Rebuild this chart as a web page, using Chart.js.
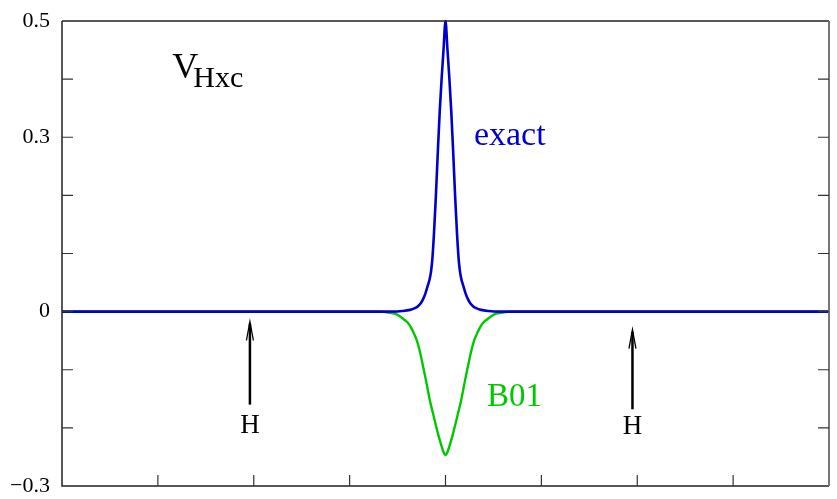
<!DOCTYPE html>
<html>
<head>
<meta charset="utf-8">
<title>V_Hxc</title>
<script src="https://cdn.jsdelivr.net/npm/chart.js@4.4.0/dist/chart.umd.min.js"></script>
<style>
  html, body { margin: 0; padding: 0; background: #fff; }
  #wrap { width: 837px; height: 499px; }
</style>
</head>
<body>
<div id="wrap"><canvas id="vhxc" width="837" height="499"></canvas></div>
<script>
const SERIF = '"Liberation Serif", "DejaVu Serif", "Times New Roman", serif';

// exact potential: sharp peak at the bond midpoint
const exactX = [-4, -0.55, -0.45, -0.37, -0.32, -0.29, -0.26, -0.235, -0.21, -0.188, -0.165, -0.15, -0.136,
  -0.12, -0.1, -0.08, -0.06, -0.04, -0.02,
  0, 0.02, 0.04, 0.06, 0.08, 0.1, 0.12,
  0.136, 0.15, 0.165, 0.188, 0.21, 0.235, 0.26, 0.29, 0.32, 0.37, 0.45, 0.55, 4];
const exactY = [0, 0, 0.001, 0.003, 0.006, 0.009, 0.014, 0.021, 0.031, 0.043, 0.056, 0.07, 0.093,
  0.135, 0.2, 0.275, 0.345, 0.402, 0.452,
  0.5, 0.452, 0.402, 0.345, 0.275, 0.2, 0.135,
  0.093, 0.07, 0.056, 0.043, 0.031, 0.021, 0.014, 0.009, 0.006, 0.003, 0.001, 0, 0];

// B01 approximation: broad well instead of the peak
const b01X = [-4, -0.68, -0.6, -0.521, -0.469, -0.43, -0.389, -0.36, -0.331, -0.3, -0.271, -0.233, -0.198,
  -0.164, -0.122, -0.08, -0.042, -0.02,
  0, 0.02, 0.042, 0.08, 0.122, 0.164,
  0.198, 0.233, 0.271, 0.3, 0.331, 0.36, 0.389, 0.43, 0.469, 0.521, 0.6, 0.68, 4];
const b01Y = [0, 0, -0.0015, -0.004, -0.009, -0.014, -0.020, -0.027, -0.037, -0.049, -0.066, -0.095, -0.123,
  -0.152, -0.181, -0.209, -0.231, -0.242,
  -0.247, -0.242, -0.231, -0.209, -0.181, -0.152,
  -0.123, -0.095, -0.066, -0.049, -0.037, -0.027, -0.020, -0.014, -0.009, -0.004, -0.0015, 0, 0];

const yLabels = { "0.5": "0.5", "0.3": "0.3", "0": "0", "-0.3": "\u22120.3" };

// hydrogen positions: arrow x, tip, tail and label baseline
const atomX = [-2.04, 1.95];
const arrowTip = [-0.017, -0.031];
const arrowTail = [-0.16, -0.168];
const atomLabelY = [-0.208, -0.211];

const toPts = (xs, ys) => xs.map((x, i) => ({ x: x, y: ys[i] }));

const frameAndTicks = {
  id: "frameAndTicks",
  afterDatasetsDraw(chart) {
    const { ctx, chartArea: a, scales } = chart;
    const x = scales.x, y = scales.y;
    ctx.save();
    ctx.strokeStyle = "#222";
    ctx.lineWidth = 1.5;
    ctx.beginPath();
    ctx.moveTo(a.left, a.top);
    ctx.lineTo(a.right, a.top);
    ctx.moveTo(a.left, a.top);
    ctx.lineTo(a.left, a.bottom);
    ctx.lineTo(a.right, a.bottom);
    ctx.stroke();
    ctx.strokeStyle = "#777";
    ctx.lineWidth = 2;
    ctx.beginPath();
    ctx.moveTo(a.right, a.top);
    ctx.lineTo(a.right, a.bottom);
    ctx.stroke();

    // inward tick marks
    ctx.strokeStyle = "#333";
    ctx.lineWidth = 1.2;
    ctx.beginPath();
    y.ticks.forEach((t) => {
      const py = y.getPixelForValue(t.value);
      if (Math.abs(py - a.top) < 1 || Math.abs(py - a.bottom) < 1) return;
      ctx.moveTo(a.left, py);
      ctx.lineTo(a.left + 11, py);
      ctx.moveTo(a.right, py);
      ctx.lineTo(a.right - 11, py);
    });
    x.ticks.forEach((t) => {
      const px = x.getPixelForValue(t.value);
      if (Math.abs(px - a.left) < 1 || Math.abs(px - a.right) < 1) return;
      ctx.moveTo(px, a.bottom);
      ctx.lineTo(px, a.bottom - 11);
    });
    ctx.stroke();

    // arrows marking the H atoms
    ctx.strokeStyle = "#000";
    ctx.fillStyle = "#000";
    atomX.forEach((ax, i) => {
      const px = x.getPixelForValue(ax);
      const tip = y.getPixelForValue(arrowTip[i]);
      const tail = y.getPixelForValue(arrowTail[i]);
      ctx.lineWidth = 2.5;
      ctx.beginPath();
      ctx.moveTo(px, tail);
      ctx.lineTo(px, tip + 2);
      ctx.stroke();
      ctx.lineWidth = 1.3;
      ctx.beginPath();
      ctx.moveTo(px - 3.5, tip + 19);
      ctx.lineTo(px, tip);
      ctx.lineTo(px + 3.5, tip + 19);
      ctx.stroke();
      ctx.font = "27px " + SERIF;
      ctx.textAlign = "center";
      ctx.textBaseline = "alphabetic";
      ctx.fillText("H", px, y.getPixelForValue(atomLabelY[i]));
    });

    // curve labels
    ctx.textAlign = "left";
    ctx.font = "36px " + SERIF;
    ctx.fillText("V", x.getPixelForValue(-2.85), y.getPixelForValue(0.402));
    ctx.font = "30px " + SERIF;
    ctx.fillText("Hxc", x.getPixelForValue(-2.63), y.getPixelForValue(0.387));
    ctx.font = "34px " + SERIF;
    ctx.fillStyle = "rgb(0,0,205)";
    ctx.fillText("exact", x.getPixelForValue(0.296), y.getPixelForValue(0.287));
    ctx.font = "33px " + SERIF;
    ctx.fillStyle = "rgb(0,200,0)";
    ctx.fillText("B01", x.getPixelForValue(0.432), y.getPixelForValue(-0.163));
    ctx.restore();
  },
};

const ctx = document.getElementById("vhxc").getContext("2d");

new Chart(ctx, {
  type: "line",
  data: {
    datasets: [
      {
        label: "exact",
        data: toPts(exactX, exactY),
        borderColor: "rgb(0,0,205)",
        borderWidth: 2.6,
        pointRadius: 0,
        cubicInterpolationMode: "monotone",
        clip: false,
      },
      {
        label: "B01",
        data: toPts(b01X, b01Y),
        borderColor: "rgb(0,200,0)",
        borderWidth: 2.4,
        pointRadius: 0,
        cubicInterpolationMode: "monotone",
      },
    ],
  },
  options: {
    responsive: false,
    animation: false,
    layout: { padding: { top: 21, right: 8, left: 0, bottom: 0 } },
    plugins: {
      legend: { display: false },
      tooltip: { enabled: false },
    },
    scales: {
      x: {
        type: "linear",
        min: -4,
        max: 4,
        ticks: { display: false, stepSize: 1 },
        grid: { display: false, drawTicks: false },
        border: { display: false },
        afterFit: (scale) => {
          scale.height = 13;
          scale.paddingLeft = 0;
          scale.paddingRight = 0;
        },
      },
      y: {
        min: -0.3,
        max: 0.5,
        ticks: {
          stepSize: 0.1,
          padding: 12,
          color: "#000",
          font: { family: SERIF, size: 22 },
          callback: (value) => {
            const key = String(Math.round(value * 10) / 10);
            return yLabels[key] !== undefined ? yLabels[key] : "";
          },
        },
        grid: { display: false, drawTicks: false },
        border: { display: false },
        afterFit: (scale) => {
          scale.width = 62;
          scale.paddingTop = 0;
          scale.paddingBottom = 0;
        },
      },
    },
  },
  plugins: [frameAndTicks],
});
</script>
</body>
</html>
